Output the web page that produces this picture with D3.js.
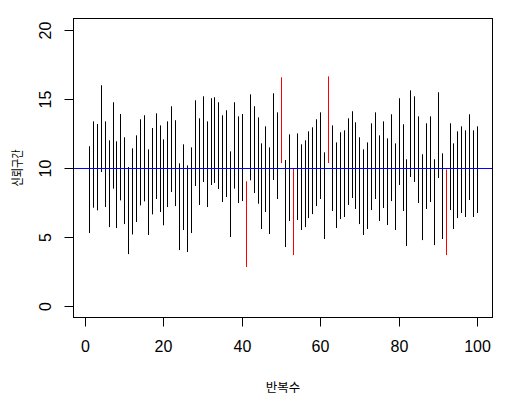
<!DOCTYPE html>
<html><head><meta charset="utf-8">
<script src="https://cdn.jsdelivr.net/npm/d3@7"></script>
<style>html,body{margin:0;padding:0;background:#fff;}</style>
</head><body>
<svg id="c" width="514" height="405"></svg>
<script>
// interval index 1..100
const reps = d3.range(1, 101);
const lower = [5.30,7.13,6.94,9.71,7.18,5.73,8.51,5.66,7.66,5.95,
3.78,5.20,6.10,7.30,7.59,5.16,6.65,7.76,6.82,5.86,
7.18,8.27,7.25,4.07,5.52,3.93,5.30,8.70,7.33,8.99,
7.18,8.77,8.92,8.48,7.54,7.90,5.01,8.51,7.47,7.61,
2.85,9.11,8.19,7.42,5.59,6.82,5.23,9.13,7.76,10.36,
4.29,6.17,3.71,6.24,5.52,5.73,6.38,6.67,7.25,7.76,
4.87,10.36,6.89,5.66,6.31,6.46,7.33,7.83,7.04,5.95,
5.16,5.59,6.96,7.76,6.17,7.11,5.88,7.61,5.52,8.77,
6.89,4.36,9.35,8.99,7.47,4.79,7.04,7.54,4.43,9.28,
4.87,3.71,6.96,5.59,6.38,6.75,6.46,7.69,6.46,6.75];
const upper = [11.57,13.37,13.18,15.98,13.37,12.00,14.75,11.93,13.90,12.22,
10.07,11.42,12.36,13.52,13.81,11.35,12.89,13.95,13.08,12.07,
13.37,14.46,13.45,10.34,11.71,10.19,11.49,14.89,13.59,15.18,
13.37,15.04,15.11,14.75,13.81,14.17,11.20,14.75,13.73,13.90,
9.04,15.32,14.46,13.66,11.78,13.01,11.49,15.40,14.02,16.55,
10.58,12.43,9.93,12.50,11.71,12.00,12.65,12.94,13.52,14.02,
11.13,16.62,13.08,11.85,12.58,12.72,13.59,14.10,13.30,12.22,
11.35,11.85,13.23,14.02,12.36,13.37,12.14,13.88,11.78,15.04,
13.16,10.63,15.61,15.18,13.73,10.99,13.23,13.73,10.63,15.47,
11.06,9.90,13.23,11.78,12.65,13.01,12.72,13.88,12.72,13.01];
const mu = 10;
const xTicks = [0,20,40,60,80,100];
const yTicks = [0,5,10,15,20];
const xTitle = "반복수";
const yTitle = "신뢰구간";

const svg = d3.select("#c");
const L = 73.5, R = 492.5, T = 18.5, B = 317.5;
const x = d3.scaleLinear().domain([-2.96, 103.96]).range([L, R]);
const y = d3.scaleLinear().domain([-0.8, 20.8]).range([B, T]);

const g = svg.append("g");
// intervals
g.selectAll("line.ci").data(reps).enter().append("line")
  .attr("class","ci")
  .attr("x1", d => Math.round(x(d)) + 0.5).attr("x2", d => Math.round(x(d)) + 0.5)
  .attr("y1", (d,i) => y(lower[i])).attr("y2", (d,i) => y(upper[i]))
  .attr("stroke", (d,i) => (lower[i] > mu || upper[i] < mu) ? "#ff0000" : "#000000")
  .attr("stroke-width", 1);
// reference line
g.append("line").attr("x1", L).attr("x2", R)
  .attr("y1", Math.round(y(mu)) + 0.5).attr("y2", Math.round(y(mu)) + 0.5)
  .attr("stroke", "#0000ff").attr("stroke-width", 1);
// box
svg.append("rect").attr("x", L).attr("y", T).attr("width", R - L).attr("height", B - T)
  .attr("fill","none").attr("stroke","#000").attr("stroke-width",1);

const font = "'Liberation Sans', Arial, sans-serif";
// x axis
const xa = svg.append("g").attr("transform", `translate(0,${B})`)
  .call(d3.axisBottom(x).tickValues(xTicks).tickSize(9).tickPadding(14).tickFormat(d3.format("d")));
xa.select(".domain").remove();
xa.selectAll("line").attr("stroke","#000").attr("stroke-width",1)
  .attr("transform", function(){ return null; });
xa.selectAll(".tick").attr("transform", d => `translate(${Math.round(x(d)) + 0.5},0)`);
xa.selectAll("text").attr("font-family", font).attr("font-size", 16).attr("fill","#000");
// y axis
const ya = svg.append("g").attr("transform", `translate(${L},0)`)
  .call(d3.axisLeft(y).tickValues(yTicks).tickSize(9).tickFormat(d3.format("d")));
ya.select(".domain").remove();
ya.selectAll(".tick").attr("transform", d => `translate(0,${Math.round(y(d)) + 0.5})`);
ya.selectAll("line").attr("stroke","#000").attr("stroke-width",1);
ya.selectAll("text").remove();
ya.selectAll(".tick").append("text")
  .attr("transform", "translate(-28,0) rotate(-90)")
  .attr("text-anchor","middle").attr("dominant-baseline","central")
  .attr("font-family", font).attr("font-size", 16).attr("fill","#000")
  .text(d => d);

// titles
svg.append("text").attr("x", (L + R) / 2).attr("y", 386)
  .attr("text-anchor","middle").attr("dominant-baseline","central")
  .attr("font-family","'Noto Sans CJK KR', sans-serif").attr("font-size", 12.5).attr("fill","#000")
  .text(xTitle);
svg.append("text").attr("transform", `translate(16,${(T + B) / 2}) rotate(-90)`)
  .attr("text-anchor","middle").attr("dominant-baseline","central")
  .attr("font-family","'Noto Sans CJK KR', sans-serif").attr("font-size", 12.5).attr("fill","#000")
  .attr("textLength", 37).attr("lengthAdjust","spacingAndGlyphs")
  .text(yTitle);
</script>
</body></html>
